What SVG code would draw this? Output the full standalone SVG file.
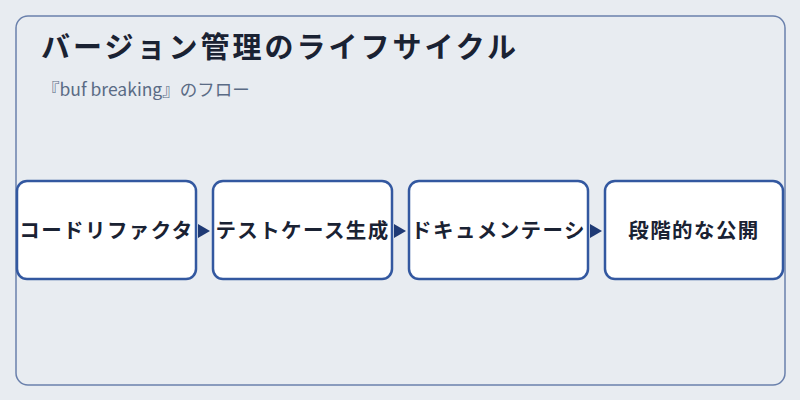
<svg xmlns="http://www.w3.org/2000/svg" width="800" height="400" viewBox="0 0 800 400">
<defs>
<style>
.node rect{fill:#ffffff;stroke:#3358a0;stroke-width:2.5}
.node text{font-family:"Noto Sans CJK JP","Noto Sans",sans-serif;font-size:20.5px;font-weight:bold;fill:#1a2233;text-anchor:middle;letter-spacing:1.4px}
.conn path{fill:#1f3a75}
</style>
</defs>
<rect x="0" y="0" width="800" height="400" fill="#e8ecf1"/>
<rect x="16" y="16" width="769" height="369" rx="12" fill="#e8ecf1" stroke="#6a80ac" stroke-width="1.5"/>
<text x="41" y="58" font-family="Noto Sans CJK JP, sans-serif" font-size="29" font-weight="bold" fill="#1a2233" letter-spacing="3">バージョン管理のライフサイクル</text>
<text x="42" y="96" font-family="Noto Sans CJK JP, sans-serif" font-size="17.5" fill="#5a6b85">『buf breaking』のフロー</text>
<g id="node1" class="node"><rect x="17" y="181" width="179" height="98" rx="10"/><text x="106.5" y="238">コードリファクタ</text></g>
<g id="node2" class="node"><rect x="213" y="181" width="179" height="98" rx="10"/><text x="302.5" y="238">テストケース生成</text></g>
<g id="node3" class="node"><rect x="409" y="181" width="179" height="98" rx="10"/><text x="498.5" y="238">ドキュメンテーシ</text></g>
<g id="node4" class="node"><rect x="605" y="181" width="178" height="98" rx="10"/><text x="694" y="238">段階的な公開</text></g>
<g id="connectors" class="conn">
<path d="M198,224 L210,231 L198,238 Z"/>
<path d="M394,224 L406,231 L394,238 Z"/>
<path d="M590,224 L602,231 L590,238 Z"/>
</g>
</svg>
